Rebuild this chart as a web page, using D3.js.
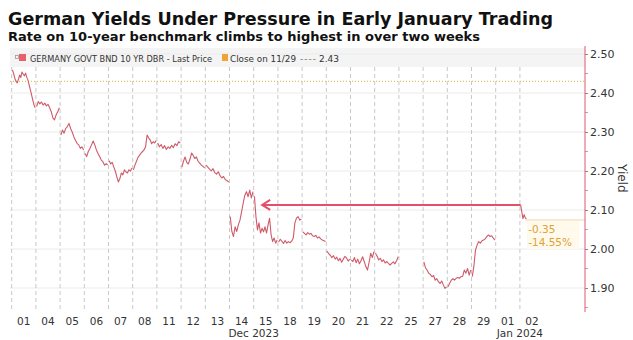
<!DOCTYPE html>
<html><head><meta charset="utf-8">
<script src="https://cdn.jsdelivr.net/npm/d3@7"></script>
<style>
body{margin:0;background:#fff;}
svg{display:block;}
text{font-family:"DejaVu Sans",Verdana,sans-serif;}
</style></head>
<body><svg id="c" width="633" height="340"></svg>
<script>
// ---- data ----
const dayLabels = ["01","04","05","06","07","08","11","12","13","14","15","18","19","20","21","22","25","27","28","29","01","02"];
const dec01 = [2.459,2.450,2.438,2.430,2.426,2.435,2.446,2.440,2.454,2.448,2.444,2.451,2.440,2.433,2.420,2.408,2.395,2.382,2.370,2.362];
const dec04 = [2.365,2.378,2.372,2.377,2.369,2.374,2.367,2.371,2.362,2.352,2.336,2.331,2.344,2.352,2.362];
const dec05 = [2.292,2.305,2.297,2.309,2.314,2.322,2.309,2.300,2.288,2.279,2.271,2.267,2.258,2.262,2.254];
const dec06 = [2.245,2.237,2.250,2.258,2.267,2.277,2.267,2.254,2.245,2.237,2.228,2.224,2.215,2.219,2.215];
const dec07 = [2.226,2.218,2.222,2.210,2.200,2.185,2.172,2.180,2.195,2.190,2.203,2.198,2.195,2.203,2.200,2.208];
const dec08 = [2.203,2.215,2.225,2.235,2.240,2.246,2.250,2.254,2.262,2.292,2.285,2.280,2.270,2.275,2.272,2.278];
const dec11 = [2.272,2.262,2.268,2.258,2.265,2.255,2.262,2.258,2.266,2.260,2.270,2.265,2.275,2.272];
const dec12 = [2.210,2.225,2.236,2.222,2.218,2.230,2.246,2.240,2.232,2.236,2.225,2.220,2.215,2.212,2.208];
const dec13 = [2.215,2.210,2.205,2.200,2.206,2.196,2.192,2.198,2.188,2.182,2.186,2.178,2.175,2.172];
const dec14 = [2.083,2.045,2.032,2.057,2.045,2.062,2.074,2.096,2.118,2.138,2.147,2.134,2.151,2.131,2.147];
const dec15 = [2.135,2.083,2.049,2.067,2.041,2.053,2.044,2.057,2.041,2.062,2.079,2.036,2.019,2.028,2.015,2.023];
const dec18 = [2.018,2.025,2.020,2.014,2.022,2.015,2.019,2.016,2.020,2.028,2.067,2.079,2.083,2.074,2.077];
const dec19 = [2.044,2.040,2.036,2.042,2.038,2.040,2.034,2.032,2.035,2.028,2.031,2.026,2.023,2.021,2.019];
const dec20 = [1.995,1.988,1.984,1.978,1.983,1.974,1.979,1.970,1.976,1.966,1.974,1.981,1.977,1.969,1.974];
const dec21 = [1.972,1.968,1.978,1.965,1.974,1.962,1.970,1.980,1.968,1.955,1.946,1.966,1.989,1.978,1.993];
const dec22 = [1.989,1.982,1.972,1.976,1.968,1.972,1.964,1.968,1.963,1.959,1.963,1.967,1.962,1.970,1.980];
const dec25 = [];
const dec27 = [1.967,1.952,1.946,1.938,1.935,1.929,1.932,1.920,1.924,1.916,1.912,1.918,1.908,1.899,1.903];
const dec28 = [1.903,1.912,1.920,1.924,1.920,1.925,1.927,1.925,1.929,1.930,1.946,1.938,1.950,1.933,1.946];
const dec29 = [1.929,1.955,1.997,2.010,2.019,2.015,2.021,2.023,2.026,2.032,2.036,2.032,2.034,2.028,2.023];
const jan01 = [];
const jan02 = [2.113,2.095,2.078,2.088,2.080,2.077];
const sessions = [dec01,dec04,dec05,dec06,dec07,dec08,dec11,dec12,dec13,dec14,dec15,dec18,dec19,dec20,dec21,dec22,dec25,dec27,dec28,dec29,jan01,jan02];
const sessionCoverage = [1,1,1,1,1,1,1,1,1,1,1,1,1,1,1,1,1,1,1,1,1,0.3];
const months = [{label:"Dec 2023", first:0, last:20},{label:"Jan 2024", first:20, last:22}];
const yTicks = [1.9,2.0,2.1,2.2,2.3,2.4,2.5];
const yMinorTicks = [1.85,1.95,2.05,2.15,2.25,2.35,2.45];
const closeValue = 2.43;
const lastValue = 2.077;
const changeLabels = ["-0.35","-14.55%"];
const arrowFrom = {day:21, frac:0.03, value:2.113};
const arrowTo = {day:10, frac:0.35, value:2.113};

// ---- chart ----
const svg = d3.select("#c");
const x = d3.scaleLinear().domain([0, dayLabels.length]).range([11.7, 544.1]);
const y = d3.scaleLinear().domain([1.9, 2.5]).range([288, 54]);
const axisX = 585, plotTop = 48, plotBottom = 311;

// title
svg.append("text").attr("x",8).attr("y",25).attr("font-size",17).attr("font-weight","bold")
  .attr("fill","#111").attr("textLength",545).attr("lengthAdjust","spacingAndGlyphs")
  .text("German Yields Under Pressure in Early January Trading");
svg.append("text").attr("x",8).attr("y",40.5).attr("font-size",12.5).attr("font-weight","bold")
  .attr("fill","#111").attr("textLength",472).attr("lengthAdjust","spacingAndGlyphs")
  .text("Rate on 10-year benchmark climbs to highest in over two weeks");

// legend band
svg.append("rect").attr("x",10).attr("y",plotTop).attr("width",axisX-10).attr("height",19).attr("fill","#f4f4f4");

// horizontal grid
svg.append("g").selectAll("line").data(yTicks).join("line")
  .attr("x1",10).attr("x2",axisX).attr("y1",d=>y(d)).attr("y2",d=>y(d))
  .attr("stroke","#ebebeb").attr("stroke-width",1);

// vertical dashed day grid
svg.append("g").selectAll("line").data(d3.range(0, dayLabels.length)).join("line")
  .attr("x1",d=>x(d)).attr("x2",d=>x(d)).attr("y1",plotTop+19).attr("y2",plotBottom)
  .attr("stroke","#c8c8c8").attr("stroke-width",1).attr("stroke-dasharray","4,3");

// close line
svg.append("line").attr("x1",10).attr("x2",axisX).attr("y1",y(closeValue)).attr("y2",y(closeValue))
  .attr("stroke","#d8b441").attr("stroke-width",1).attr("stroke-dasharray","1,2");

// last value line
const lastX = x(21 + sessionCoverage[21]);
svg.append("line").attr("x1",lastX-2).attr("x2",axisX).attr("y1",y(lastValue)+1).attr("y2",y(lastValue)+1)
  .attr("stroke","#f2d7a2").attr("stroke-width",1);

// data line
const line = d3.line().x(d=>x(d[0])).y(d=>y(d[1]));
sessions.forEach((vals,i)=>{
  if(!vals.length) return;
  const cov = sessionCoverage[i];
  const pts = vals.map((v,k)=>[i + 0.03 + (cov-0.06)*k/(vals.length-1), v]);
  svg.append("path").attr("d",line(pts)).attr("fill","none")
    .attr("stroke","#cf5a68").attr("stroke-width",1.1).attr("stroke-linejoin","round");
});

// arrow
const ax1 = x(arrowFrom.day+arrowFrom.frac), ax2 = x(arrowTo.day+arrowTo.frac), ay = y(arrowTo.value);
svg.append("line").attr("x1",ax1).attr("x2",ax2).attr("y1",ay).attr("y2",ay)
  .attr("stroke","#e64d68").attr("stroke-width",2);
svg.append("path").attr("d",`M${ax2+8},${ay-5}L${ax2},${ay}L${ax2+8},${ay+5}`)
  .attr("fill","none").attr("stroke","#e64d68").attr("stroke-width",2);

// change annotation
svg.append("rect").attr("x",lastX).attr("y",y(lastValue)+2).attr("width",52).attr("height",28).attr("fill","#fffaec");
changeLabels.forEach((t,i)=>{
  svg.append("text").attr("x",lastX+1).attr("y",y(lastValue)+11+i*13.5).attr("font-size",10.5)
    .attr("fill","#e0a136").attr("dominant-baseline","middle").text(t);
});

// x labels
svg.append("g").selectAll("text").data(dayLabels).join("text")
  .attr("x",(d,i)=>x(i+0.5)).attr("y",325).attr("text-anchor","middle")
  .attr("font-size",10.5).attr("fill","#333").text(d=>d);
svg.append("g").selectAll("text").data(months).join("text")
  .attr("x",d=>x((d.first+d.last)/2)).attr("y",337).attr("text-anchor","middle")
  .attr("font-size",10.5).attr("fill","#333").text(d=>d.label);

// right axis
const yAxis = d3.axisRight(y).tickValues(yTicks).tickSize(3).tickFormat(d3.format(".2f"));
const gA = svg.append("g").attr("transform",`translate(${axisX},0)`).call(yAxis);
gA.select(".domain").remove();
gA.selectAll(".tick line").attr("stroke","#888");
gA.selectAll(".tick text").attr("font-size",11).attr("fill","#333").attr("x",5)
  .attr("font-family","DejaVu Sans, sans-serif");
svg.append("g").selectAll("line").data(yMinorTicks).join("line")
  .attr("x1",axisX).attr("x2",axisX+3).attr("y1",d=>y(d)).attr("y2",d=>y(d)).attr("stroke","#aaa");
svg.append("line").attr("x1",axisX).attr("x2",axisX).attr("y1",plotTop-2).attr("y2",plotBottom+1)
  .attr("stroke","#e0566c").attr("stroke-width",1);
svg.append("text").attr("transform",`translate(618,164) rotate(90)`).attr("font-size",12)
  .attr("fill","#333").text("Yield");

// legend
svg.append("rect").attr("x",15.5).attr("y",55.5).attr("width",3).attr("height",3).attr("fill","none").attr("stroke","#999").attr("stroke-width",0.8);
svg.append("rect").attr("x",19).attr("y",54).attr("width",7).attr("height",7).attr("fill","#e8606b");
svg.append("text").attr("x",30).attr("y",61.5).attr("font-size",9).attr("fill","#333")
  .attr("textLength",182).attr("lengthAdjust","spacingAndGlyphs")
  .text("GERMANY GOVT BND 10 YR DBR - Last Price");
svg.append("rect").attr("x",222).attr("y",54).attr("width",6).attr("height",7).attr("fill","#eda636");
svg.append("text").attr("x",230).attr("y",61.5).attr("font-size",9).attr("fill","#333")
  .attr("textLength",66).attr("lengthAdjust","spacingAndGlyphs")
  .text("Close on 11/29");
svg.append("text").attr("x",300).attr("y",61.5).attr("font-size",9).attr("fill","#777")
  .attr("textLength",16).attr("lengthAdjust","spacing").text("----");
svg.append("text").attr("x",319).attr("y",61.5).attr("font-size",9).attr("fill","#333")
  .text(closeValue.toFixed(2));
</script></body></html>
